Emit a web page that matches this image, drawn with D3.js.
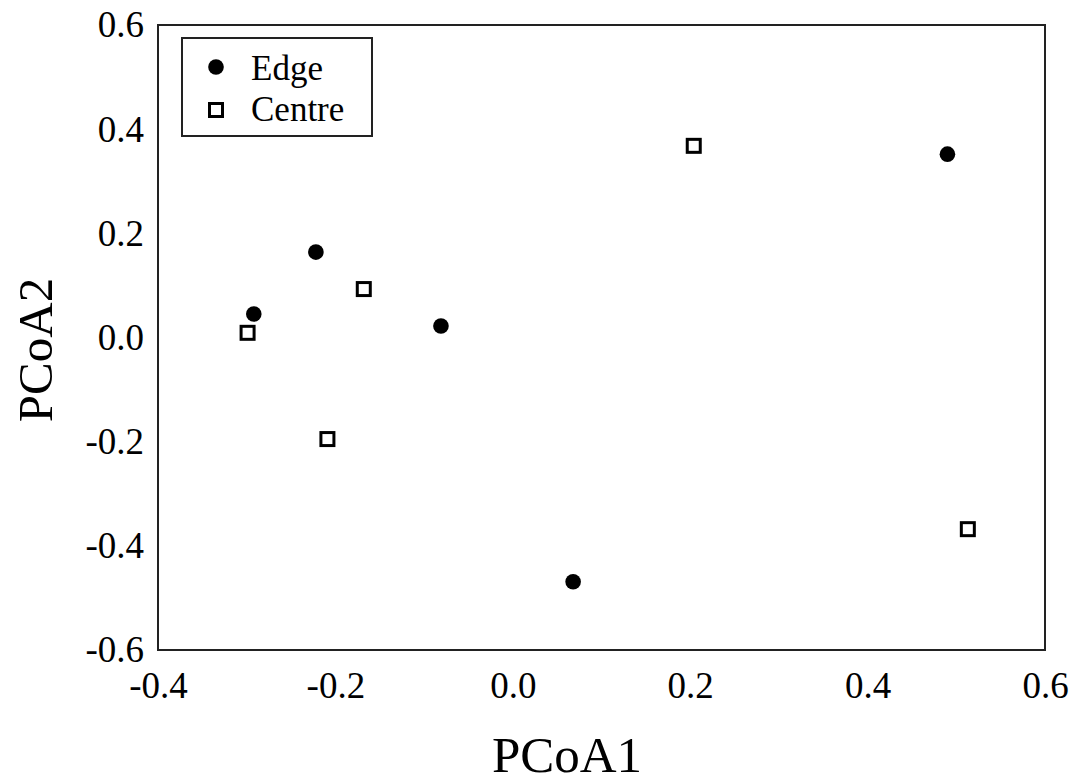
<!DOCTYPE html>
<html><head><meta charset="utf-8">
<script src="https://cdn.jsdelivr.net/npm/d3@7"></script>
<style>body{margin:0;background:#fff}svg{display:block}text{font-family:"Liberation Serif","Times New Roman",serif;fill:#000}</style>
</head><body>
<script>
const edgeX = [-0.222, -0.292, -0.081, 0.068, 0.490];
const edgeY = [0.164, 0.045, 0.022, -0.469, 0.352];
const centreX = [-0.299, -0.168, -0.209, 0.204, 0.513];
const centreY = [0.009, 0.093, -0.195, 0.368, -0.368];
const xTicks = [-0.4, -0.2, 0.0, 0.2, 0.4, 0.6];
const yTicks = [-0.6, -0.4, -0.2, 0.0, 0.2, 0.4, 0.6];
const legendLabels = ["Edge", "Centre"];

const W = 1080, H = 783;
const L = 158, R = 1045, T = 25, B = 650;
const svg = d3.select("body").append("svg").attr("width", W).attr("height", H);
const x = d3.scaleLinear().domain([-0.4, 0.6]).range([L, R]);
const y = d3.scaleLinear().domain([-0.6, 0.6]).range([B, T]);
const fmt = d => d3.format(".1f")(d).replace("\u2212", "-");

svg.append("rect").attr("x", L).attr("y", T).attr("width", R - L).attr("height", B - T)
  .attr("fill", "none").attr("stroke", "#222").attr("stroke-width", 2);

const xAxis = svg.append("g").attr("transform", `translate(0,${B})`)
  .call(d3.axisBottom(x).tickValues(xTicks).tickSize(0).tickPadding(22).tickFormat(fmt));
xAxis.select(".domain").remove();
xAxis.selectAll("text").attr("font-size", 37).attr("dy", "0.71em");

const yAxis = svg.append("g").attr("transform", `translate(${L},0)`)
  .call(d3.axisLeft(y).tickValues(yTicks).tickSize(0).tickPadding(14).tickFormat(fmt));
yAxis.select(".domain").remove();
yAxis.selectAll("text").attr("font-size", 37);

svg.selectAll("text").style("font-family", '"Liberation Serif","Times New Roman",serif');

svg.append("text").attr("x", 567).attr("y", 772).attr("text-anchor", "middle")
  .attr("font-size", 51).text("PCoA1");
svg.append("text").attr("transform", "translate(52,350) rotate(-90)").attr("text-anchor", "middle")
  .attr("font-size", 49).text("PCoA2");

const edges = edgeX.map((v, i) => ({x: v, y: edgeY[i]}));
const centres = centreX.map((v, i) => ({x: v, y: centreY[i]}));

svg.append("g").selectAll("circle").data(edges).join("circle")
  .attr("cx", d => x(d.x)).attr("cy", d => y(d.y)).attr("r", 7.8).attr("fill", "#000");
svg.append("g").selectAll("rect").data(centres).join("rect")
  .attr("x", d => x(d.x) - 6.5).attr("y", d => y(d.y) - 6.5).attr("width", 13).attr("height", 13)
  .attr("fill", "#fff").attr("stroke", "#000").attr("stroke-width", 3);

// legend
const lg = svg.append("g");
lg.append("rect").attr("x", 182).attr("y", 38).attr("width", 190).attr("height", 98)
  .attr("fill", "#fff").attr("stroke", "#222").attr("stroke-width", 2);
lg.append("circle").attr("cx", 216).attr("cy", 67).attr("r", 7.8).attr("fill", "#000");
lg.append("rect").attr("x", 209.5).attr("y", 103.5).attr("width", 13).attr("height", 13)
  .attr("fill", "#fff").attr("stroke", "#000").attr("stroke-width", 3);
lg.selectAll("text").data(legendLabels).join("text")
  .attr("x", 251).attr("y", (d, i) => 80 + i * 41).attr("font-size", 35).text(d => d);
</script>
</body></html>
